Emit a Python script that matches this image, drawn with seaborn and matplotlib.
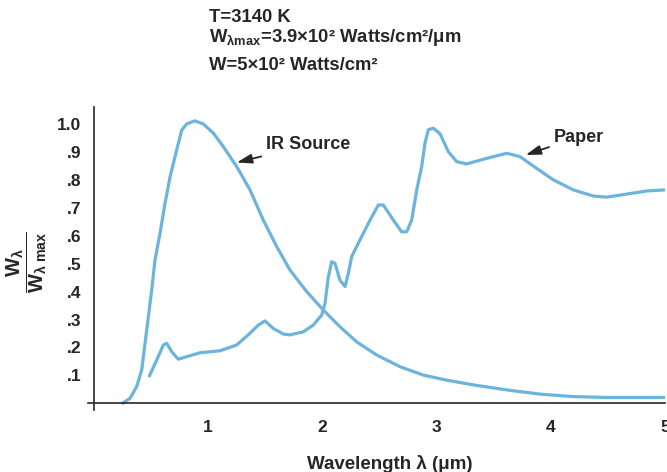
import numpy as np
import pandas as pd
import seaborn as sns
import matplotlib
matplotlib.use("Agg")
import matplotlib.pyplot as plt

# ---- data ----
ir_wavelength = [0.25, 0.315, 0.374, 0.418, 0.447, 0.476, 0.505, 0.534, 0.578, 0.622,
                 0.666, 0.724, 0.768, 0.811, 0.884, 0.957, 1.045, 1.132, 1.25, 1.366,
                 1.482, 1.6, 1.716, 1.862, 2.008, 2.154, 2.30, 2.475, 2.68, 2.884,
                 3.088, 3.321, 3.614, 3.905, 4.197, 4.489, 5.0]
ir_value = [0.0, 0.018, 0.06, 0.12, 0.215, 0.31, 0.406, 0.513, 0.609, 0.716,
            0.811, 0.907, 0.978, 1.0, 1.011, 1.0, 0.967, 0.919, 0.847, 0.764,
            0.656, 0.561, 0.477, 0.40, 0.334, 0.274, 0.22, 0.173, 0.131, 0.101,
            0.083, 0.066, 0.048, 0.033, 0.024, 0.021, 0.021]

paper_wavelength = [0.485, 0.549, 0.607, 0.636, 0.68, 0.738, 0.811, 0.928, 1.103, 1.25,
                    1.366, 1.439, 1.497, 1.57, 1.658, 1.716, 1.833, 1.92, 1.994, 2.023,
                    2.052, 2.081, 2.11, 2.154, 2.198, 2.227, 2.256, 2.329, 2.417, 2.49,
                    2.533, 2.621, 2.694, 2.738, 2.782, 2.826, 2.869, 2.898, 2.927, 2.971,
                    3.03, 3.102, 3.176, 3.263, 3.439, 3.614, 3.73, 3.876, 4.022, 4.197,
                    4.372, 4.489, 4.665, 4.84, 5.0]
paper_value = [0.098, 0.155, 0.209, 0.215, 0.185, 0.158, 0.167, 0.181, 0.188, 0.209,
               0.251, 0.28, 0.295, 0.268, 0.248, 0.245, 0.256, 0.28, 0.316, 0.358,
               0.453, 0.507, 0.501, 0.441, 0.418, 0.465, 0.525, 0.585, 0.656, 0.71,
               0.71, 0.656, 0.614, 0.614, 0.656, 0.764, 0.847, 0.931, 0.979, 0.985,
               0.965, 0.901, 0.865, 0.857, 0.877, 0.895, 0.883, 0.841, 0.80, 0.764,
               0.742, 0.738, 0.749, 0.76, 0.764]

x_ticks = [1, 2, 3, 4, 5]
x_tick_labels = ["1", "2", "3", "4", "5"]
y_ticks = [0.1, 0.2, 0.3, 0.4, 0.5, 0.6, 0.7, 0.8, 0.9, 1.0]
y_tick_labels = [".1", ".2", ".3", ".4", ".5", ".6", ".7", ".8", ".9", "1.0"]

header_lines = ["T=3140 K",
                "W$_{\\lambda max}$=3.9×10² Watts/cm²/μm",
                "W=5×10² Watts/cm²"]

# ---- style ----
sns.set_theme(style="white")
plt.rcParams['font.family'] = ['Liberation Sans', 'DejaVu Sans']
plt.rcParams['mathtext.fontset'] = 'custom'
plt.rcParams['mathtext.rm'] = 'Liberation Sans:bold'
plt.rcParams['mathtext.bf'] = 'Liberation Sans:bold'
plt.rcParams['mathtext.it'] = 'Liberation Sans:bold'
plt.rcParams['mathtext.default'] = 'regular'

LINE = '#6cb4dc'
INK = '#262626'

ir_df = pd.DataFrame({"wavelength": ir_wavelength, "value": ir_value})
paper_df = pd.DataFrame({"wavelength": paper_wavelength, "value": paper_value})

fig = plt.figure(figsize=(6.67, 4.72), dpi=100)
ax = fig.add_axes([0.1324, 0.1307, 0.8646, 0.6422])

for df in (ir_df, paper_df):
    sns.lineplot(data=df, x="wavelength", y="value", ax=ax, color=LINE, lw=2.3,
                 sort=True, estimator=None, solid_joinstyle='round',
                 solid_capstyle='round')

ax.set_xlim(-0.05, 5.0)
ax.set_ylim(-0.025, 1.06)
for s in ['top', 'right']:
    ax.spines[s].set_visible(False)
ax.spines['left'].set_position(('data', 0))
ax.spines['bottom'].set_position(('data', 0))
for s in ['left', 'bottom']:
    ax.spines[s].set_color(INK)
    ax.spines[s].set_linewidth(1.2)

ax.set_xticks(x_ticks)
ax.set_xticklabels(x_tick_labels)
ax.set_yticks(y_ticks)
ax.set_yticklabels(y_tick_labels)
ax.tick_params(axis='both', which='major', direction='inout', length=10, width=1.1,
               color=INK, labelcolor=INK, labelsize=12.5)
ax.tick_params(axis='x', pad=7)
ax.tick_params(axis='y', pad=4)
for lab in ax.get_xticklabels() + ax.get_yticklabels():
    lab.set_fontweight('bold')
ax.set_xlabel("")
ax.set_ylabel("")

arrow_kw = dict(arrowstyle='-|>,head_length=0.7,head_width=0.22', color=INK, lw=1.3,
                shrinkA=1, shrinkB=0, mutation_scale=13)
ax.annotate("IR Source", xy=(1.25, 0.862), xytext=(1.505, 0.925),
            fontsize=13, fontweight='bold', color=INK, va='center', ha='left',
            arrowprops=arrow_kw)
ax.annotate("Paper", xy=(3.78, 0.889), xytext=(4.025, 0.953),
            fontsize=13, fontweight='bold', color=INK, va='center', ha='left',
            arrowprops=arrow_kw)

# axis labels as figure text
fig.text(390 / 667, 1 - 464 / 472, "Wavelength λ (μm)", ha='center', va='center',
         fontsize=13.5, fontweight='bold', color=INK)
fig.text(27 / 667, 1 - 262 / 472, r"$\dfrac{W_{\lambda}}{W_{\lambda\ max}}$",
         rotation=90, ha='center', va='center', fontsize=14.5, fontweight='bold',
         color=INK)

# header
header_y = [17, 37, 66]
for line, yy in zip(header_lines, header_y):
    fig.text(209 / 667, 1 - yy / 472, line, ha='left', va='center', fontsize=13.3,
             fontweight='bold', color=INK)

fig.savefig("out.png", dpi=100)
